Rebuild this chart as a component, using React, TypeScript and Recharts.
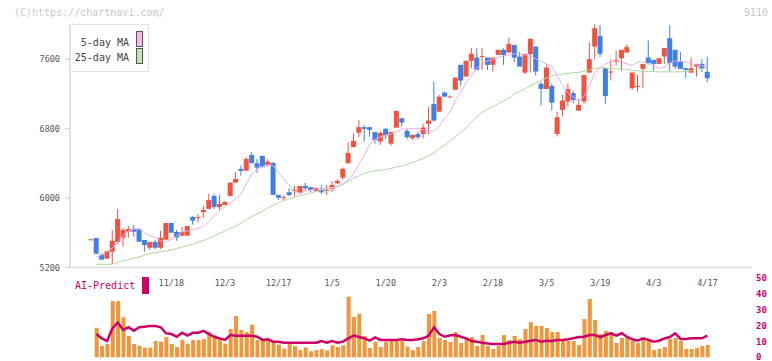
import { ComposedChart, Bar, Line, XAxis, YAxis } from 'recharts';

// candle index 0..115, one per trading day
const opens = [
  5520, 5540, 5348, 5301, 5382, 5494, 5544, 5613, 5644, 5644,
  5517, 5428, 5494, 5428, 5520, 5713, 5609, 5567, 5567, 5782,
  5775, 5840, 5875, 6024, 5898, 5921, 6024, 6178, 6335, 6316,
  6497, 6401, 6486, 6382, 6408, 6036, 6005, 6067, 6090, 6062,
  6140, 6125, 6082, 6097, 6090, 6102, 6171, 6235, 6401, 6589,
  6754, 6817, 6817, 6762, 6651, 6797, 6627, 6812, 6920, 6774,
  6690, 6739, 6739, 6855, 7085, 6996, 7215, 7165, 7247, 7535,
  7400, 7581, 7619, 7635, 7619, 7535, 7650, 7708, 7677, 7765,
  7630, 7446, 7658, 7746, 7316, 7258, 7293, 6739, 7016, 7112,
  7208, 7008, 7112, 7446, 7746, 7869, 7497, 7455, 7573, 7612,
  7677, 7266, 7290, 7489, 7619, 7592, 7546, 7631, 7842, 7708,
  7573, 7497, 7446, 7515, 7546, 7454,
];
const highs = [
  5530, 5540, 5360, 5390, 5632, 5875, 5655, 5678, 5690, 5644,
  5517, 5494, 5517, 5621, 5713, 5713, 5632, 5667, 5678, 5794,
  5817, 5909, 6051, 6051, 6036, 5967, 6178, 6301, 6374, 6471,
  6532, 6448, 6486, 6448, 6408, 6036, 6028, 6113, 6140, 6140,
  6174, 6125, 6125, 6151, 6151, 6197, 6217, 6351, 6639, 6747,
  6901, 6843, 6817, 6762, 6774, 6808, 6762, 7004, 6920, 6797,
  6728, 6759, 6855, 7047, 7342, 7189, 7227, 7184, 7388, 7535,
  7581, 7727, 7727, 7727, 7619, 7619, 7708, 7727, 7850, 7765,
  7681, 7662, 7835, 7746, 7342, 7539, 7316, 6996, 7189, 7323,
  7238, 7143, 7419, 7796, 8004, 7992, 7497, 7600, 7696, 7708,
  7769, 7446, 7420, 7546, 7815, 7592, 7612, 7727, 7992, 7708,
  7681, 7497, 7620, 7546, 7600, 7627,
];
const lows = [
  5515, 5359, 5290, 5301, 5240, 5471, 5440, 5544, 5555, 5497,
  5382, 5405, 5413, 5413, 5520, 5601, 5509, 5567, 5567, 5693,
  5717, 5771, 5875, 5875, 5863, 5921, 6024, 6178, 6258, 6316,
  6401, 6293, 6351, 6362, 6036, 5978, 5978, 6024, 6016, 6055,
  6093, 6070, 6075, 6047, 6036, 6074, 6163, 6209, 6401, 6582,
  6701, 6651, 6708, 6627, 6612, 6682, 6604, 6812, 6823, 6678,
  6670, 6678, 6690, 6739, 6881, 6990, 7169, 7165, 7247, 7293,
  7400, 7497, 7477, 7477, 7477, 7458, 7650, 7535, 7677, 7566,
  7515, 7423, 7446, 7412, 7066, 7258, 7008, 6708, 6939, 7054,
  7093, 7008, 7085, 7446, 7596, 7627, 7089, 7354, 7527, 7466,
  7677, 7246, 7227, 7266, 7554, 7469, 7546, 7546, 7466, 7489,
  7489, 7381, 7446, 7400, 7450, 7335,
];
const closes = [
  5525, 5359, 5290, 5390, 5506, 5759, 5632, 5644, 5613, 5497,
  5459, 5494, 5428, 5540, 5713, 5601, 5548, 5609, 5678, 5740,
  5781, 5863, 5978, 5898, 5932, 5955, 6178, 6220, 6313, 6451,
  6401, 6351, 6362, 6420, 6036, 6005, 6010, 6036, 6095, 6140,
  6113, 6093, 6117, 6067, 6095, 6151, 6197, 6336, 6520, 6659,
  6817, 6797, 6786, 6670, 6751, 6720, 6762, 7004, 6870, 6701,
  6728, 6701, 6812, 6893, 6893, 7169, 7169, 7169, 7388, 7354,
  7581, 7662, 7477, 7638, 7535, 7619, 7708, 7650, 7777, 7619,
  7515, 7662, 7835, 7458, 7258, 7504, 7100, 6932, 7123, 7255,
  7131, 7074, 7419, 7600, 7958, 7662, 7177, 7458, 7592, 7708,
  7739, 7446, 7293, 7546, 7554, 7546, 7612, 7727, 7554, 7515,
  7489, 7477, 7497, 7546, 7489, 7381,
];
const ma5 = [
  null, 5318, 5344, 5390, 5425, 5494, 5575, 5621, 5644, 5644,
  5598, 5569, 5546, 5506, 5500, 5523, 5563, 5609, 5621, 5632,
  5655, 5673, 5730, 5794, 5851, 5901, 5945, 5990, 6045, 6165,
  6278, 6336, 6365, 6382, 6370, 6295, 6220, 6140, 6082, 6053,
  6082, 6094, 6105, 6111, 6111, 6111, 6134, 6163, 6209, 6278,
  6393, 6497, 6624, 6682, 6705, 6722, 6739, 6768, 6797, 6797,
  6803, 6803, 6785, 6774, 6768, 6831, 6924, 6993, 7131, 7212,
  7339, 7408, 7500, 7546, 7581, 7598, 7621, 7639, 7650, 7662,
  7662, 7650, 7633, 7604, 7575, 7546, 7523, 7408, 7298, 7206,
  7166, 7120, 7177, 7293, 7443, 7500, 7546, 7575, 7581, 7569,
  7546, 7529, 7569, 7569, 7546, 7523, 7494, 7506, 7558, 7581,
  7575, 7569, 7546, 7535, 7523, 7518,
];
const ma25 = [
  null, 5237, 5237, 5237, 5240, 5258, 5275, 5292, 5310, 5321,
  5344, 5361, 5373, 5384, 5390, 5402, 5419, 5436, 5454, 5471,
  5494, 5511, 5534, 5563, 5592, 5621, 5650, 5678, 5713, 5753,
  5788, 5817, 5851, 5886, 5921, 5949, 5973, 5990, 6007, 6030,
  6042, 6059, 6076, 6088, 6105, 6122, 6134, 6157, 6192, 6226,
  6255, 6284, 6301, 6313, 6318, 6330, 6341, 6359, 6370, 6388,
  6411, 6434, 6457, 6486, 6520, 6572, 6612, 6659, 6710, 6757,
  6808, 6878, 6941, 6987, 7028, 7051, 7091, 7120, 7154, 7200,
  7229, 7258, 7293, 7322, 7356, 7385, 7408, 7420, 7431, 7437,
  7443, 7448, 7460, 7477, 7494, 7500, 7500, 7489, 7489, 7489,
  7483, 7471, 7466, 7460, 7460, 7458, 7454, 7454, 7454, 7454,
  7454, 7460, 7466, 7483, 7494, 7506,
];
const volume = [
  null, 18.7, 7.2, 8.4, 35.6, 35.6, 25.3, 13.5, 8.4, 7.2,
  6.1, 6.1, 10.3, 9.9, 12.8, 8.4, 6.5, 11.1, 8.6, 10.9,
  10.9, 11.6, 16, 13.9, 11.6, 8.6, 17.9, 26.1, 17.3, 16,
  20.6, 10.9, 10.5, 10.9, 9.9, 8, 5.5, 8.4, 7.2, 4.6,
  6.3, 3.8, 4.6, 5.1, 4.4, 7.6, 6.5, 7.6, 38.4, 25.5,
  27.6, 13.5, 5.9, 9.9, 6.5, 9.9, 10.3, 10.7, 10.3, 6.8,
  4.6, 6.5, 10.3, 27.4, 29.3, 12.2, 10.9, 9.7, 16, 9,
  11.6, 12.8, 7.2, 14.1, 7.2, 5.3, 7.2, 14.1, 10.9, 13.5,
  11.6, 17.9, 22.3, 19.8, 19.8, 18.5, 16, 16, 11.6, 10.3,
  10.3, 7.8, 24.2, 36.9, 23.6, 14.7, 16.6, 16, 9, 12.2,
  12.8, 10.3, 9, 11.6, 10.9, 4.6, 5.3, 6.5, 11.6, 12.2,
  10.3, 5.3, 5.3, 5.9, 7.2, 7.8,
];
const aiPredict = [
  null, 14.7, 12, 10.3, 18.4, 21.9, 17.3, 19, 16.8, 19,
  19.4, 19.8, 19.8, 19, 15.2, 14.7, 13, 15.6, 13.7, 15.6,
  15.6, 16.8, 14.7, 13, 12, 11, 14.1, 13.7, 13.7, 13.7,
  13.7, 13, 11, 11.4, 9.9, 9.9, 9.2, 9.2, 9.2, 9.2,
  9.2, 9.2, 9.2, 10.3, 9.2, 10.3, 9.2, 9.9, 12, 13.7,
  12.8, 12, 10.5, 12.6, 11, 11, 11, 11, 11.4, 11,
  11, 11.4, 12, 13.7, 19, 14.7, 13, 13.9, 14.1, 13,
  12, 10.3, 9.9, 9.2, 8.8, 8.4, 8.4, 8.4, 9.2, 9.9,
  9.2, 9.9, 10.5, 11, 9.9, 10.5, 10.3, 11, 11, 11.4,
  12, 12.8, 13, 14.1, 14.1, 12.8, 14.1, 15.2, 13.7, 15.2,
  13, 11.4, 10.5, 12, 11, 9.9, 10.5, 12, 12.8, 15.2,
  11.6, 11.6, 12, 12, 12, 13.7,
];

const dateLabels = ['11/18', '12/3', '12/17', '1/5', '1/20', '2/3', '2/18', '3/5', '3/19', '4/3', '4/17'];
const dateIdx = [15, 25, 35, 45, 55, 65, 75, 85, 95, 105, 115];
const priceTicks = [5200, 6000, 6800, 7600];
const volTicks = [0, 10, 20, 30, 40, 50];

const rows = closes.map((c, i) => ({
  i,
  open: opens[i],
  high: highs[i],
  low: lows[i],
  close: c,
  ma5: ma5[i],
  ma25: ma25[i],
  vol: volume[i],
  ai: aiPredict[i],
}));

const X_MIN = -3.92;
const X_MAX = 123.32;
const gridTicks = Array.from({ length: 12 }, (_, k) => X_MIN + (k * (X_MAX - X_MIN)) / 11);

const MONO = '"DejaVu Sans Mono", monospace';
const RED = '#f2533f';
const BLUE = '#3f7fe6';
const MAGENTA = '#cc0066';
const ORANGE = '#f0963c';
const AXIS = '#e2e2e2';

const Candle = (props: any) => {
  const { x, y, width, height, payload } = props;
  const { open, close, high, low } = payload;
  const color = close >= open ? RED : BLUE;
  const top = Math.min(y, y + height);
  const h = Math.abs(height);
  const k = high > low ? h / (high - low) : 0;
  const at = (v: number) => top + (high - v) * k;
  const cx = x + width / 2;
  const bTop = at(Math.max(open, close));
  const bBot = at(Math.min(open, close));
  return (
    <g>
      <line x1={cx} x2={cx} y1={top} y2={top + h} stroke={color} strokeWidth={1} />
      <rect x={cx - 2.5} y={bTop} width={5} height={Math.max(bBot - bTop, 1)} fill={color} />
    </g>
  );
};

const DateTick = (props: any) => {
  const { x, payload } = props;
  const label = dateLabels[dateIdx.indexOf(payload.value)];
  return (
    <text x={x} y={286} textAnchor="middle" fontSize={8.5} fill="#555" fontFamily={MONO}>
      {label}
    </text>
  );
};

export default function App() {
  return (
    <div style={{ position: 'relative', width: 772, height: 361, background: '#fff' }}>
      <style>{'body{margin:0}'}</style>

      {/* volume + AI-Predict panel */}
      <div style={{ position: 'absolute', left: 0, top: 0 }}>
        <ComposedChart width={772} height={361} data={rows} margin={{ top: 277.3, right: 0, bottom: 3.7, left: 70 }}>
          <XAxis
            type="number"
            dataKey="i"
            orientation="top"
            height={1}
            domain={[X_MIN, X_MAX]}
            allowDataOverflow
            ticks={dateIdx}
            interval={0}
            axisLine={false}
            tickLine={false}
            tick={<DateTick />}
          />
          <YAxis
            orientation="right"
            width={20}
            domain={[0, 50]}
            ticks={volTicks}
            interval={0}
            axisLine={false}
            tickLine={false}
            tickSize={0}
            tickMargin={4}
            tick={{ fontSize: 9, fill: MAGENTA, fontFamily: MONO, fontWeight: 'bold' }}
          />
          <Bar dataKey="vol" fill={ORANGE} barSize={4} isAnimationActive={false} />
          <Line dataKey="ai" stroke={MAGENTA} strokeWidth={2.5} dot={false} isAnimationActive={false} />
        </ComposedChart>
      </div>

      {/* price panel */}
      <div style={{ position: 'absolute', left: 0, top: 0 }}>
        <ComposedChart width={772} height={280} data={rows} margin={{ top: 24.5, right: 20, bottom: 2.5, left: 0 }}>
          <XAxis
            type="number"
            dataKey="i"
            height={10}
            domain={[X_MIN, X_MAX]}
            allowDataOverflow
            ticks={gridTicks}
            interval={0}
            tick={false}
            tickSize={7}
            axisLine={{ stroke: AXIS, strokeWidth: 2 }}
            tickLine={{ stroke: AXIS }}
          />
          <YAxis
            width={70}
            domain={[5200, 8000]}
            allowDataOverflow
            ticks={priceTicks}
            interval={0}
            tickSize={5}
            tickMargin={5}
            axisLine={{ stroke: AXIS, strokeWidth: 2 }}
            tickLine={{ stroke: '#ccc' }}
            tick={{ fontSize: 8.5, fill: '#555', fontFamily: MONO }}
          />
          <Line dataKey="ma25" stroke="#acd89c" strokeWidth={1} dot={false} isAnimationActive={false} />
          <Line dataKey="ma5" stroke="#e8aee8" strokeWidth={1} dot={false} isAnimationActive={false} />
          <Bar dataKey={(d: any) => [d.low, d.high]} barSize={5} shape={<Candle />} isAnimationActive={false} />
        </ComposedChart>
      </div>

      {/* watermark, legend, AI-Predict key */}
      <svg width={772} height={361} style={{ position: 'absolute', left: 0, top: 0, pointerEvents: 'none' }} fontFamily={MONO}>
        <text x={14} y={16} fontSize={10} fill="#c8c8c8">(C)https://chartnavi.com/</text>
        <text x={768} y={16} fontSize={10} fill="#c8c8c8" textAnchor="end">9110</text>
        <rect x={70.5} y={24.5} width={78} height={47} fill="#fff" stroke="#e0e0e0" />
        <text x={129} y={45.5} fontSize={10} fill="#444" textAnchor="end">5-day MA</text>
        <rect x={136.5} y={31.5} width={6} height={15} fill="#f0bcf0" stroke="#555" />
        <text x={129} y={60.5} fontSize={10} fill="#444" textAnchor="end">25-day MA</text>
        <rect x={136.5} y={48.5} width={6} height={15} fill="#c4e4b8" stroke="#555" />
        <text x={75} y={289} fontSize={10} fill={MAGENTA}>AI-Predict</text>
        <rect x={142} y={277} width={7} height={17} fill={MAGENTA} />
      </svg>
    </div>
  );
}
